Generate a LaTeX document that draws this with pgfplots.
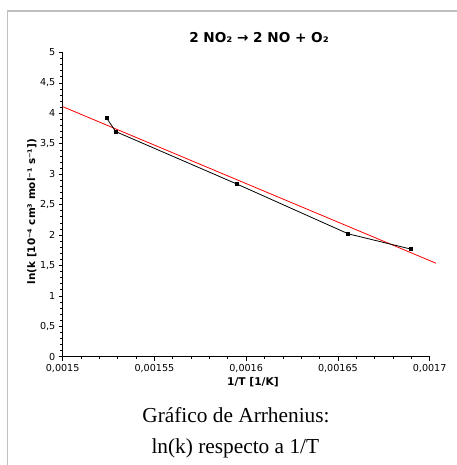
\documentclass[border=0pt]{standalone}
\usepackage{pgfplots}
\pgfplotsset{compat=1.18}
\usepackage{fontspec}
\setmainfont{DejaVu Sans}
\newfontfamily\capfont{Liberation Serif}
\definecolor{framegray}{RGB}{192,192,192}
\begin{document}
\begin{tikzpicture}
\useasboundingbox (0,0) rectangle (342.75pt,348.75pt);
\draw[color=framegray, line width=1.2pt] (5.6pt,0) -- (5.6pt,340.5pt) -- (342.75pt,340.5pt);
\begin{axis}[
  at={(47pt,81.2pt)}, anchor=south west,
  scale only axis, width=275.25pt, height=228.2pt,
  xmin=0.0015, xmax=0.0017, ymin=0, ymax=5,
  axis lines*=left,
  axis line style={black, line width=0.6pt},
  clip=false,
  tick align=outside,
  major tick length=3pt, minor tick length=1.8pt,
  every tick/.style={black, line width=0.5pt},
  xtick={0.0015,0.00155,0.0016,0.00165,0.0017},
  xticklabels={{0,0015},{0,00155},{0,0016},{0,00165},{0,0017}},
  ytick={0,0.5,1,1.5,2,2.5,3,3.5,4,4.5,5},
  yticklabels={0,{0,5},1,{1,5},2,{2,5},3,{3,5},4,{4,5},5},
  minor x tick num=4, minor y tick num=4,
  scaled x ticks=false,
  tick label style={font=\fontsize{7.2}{8}\selectfont},
  xticklabel style={yshift=1pt},
  yticklabel style={xshift=1pt},
  title={2 NO₂ → 2 NO + O₂},
  title style={at={(axis description cs:0.535,1.022)}, anchor=center, font=\bfseries\fontsize{10.2}{11}\selectfont},
  xlabel={1/T [1/K]},
  ylabel={ln(k [10⁻⁴ cm³ mol⁻¹ s⁻¹])},
  xlabel style={at={(axis description cs:0.5185,-0.083)}, anchor=center, font=\bfseries\fontsize{8}{9}\selectfont},
  ylabel style={at={(axis description cs:-0.0837,0.477)}, anchor=center, rotate=0, font=\bfseries\fontsize{7.8}{9}\selectfont},
]
\addplot[red, line width=0.6pt] coordinates {(0.0015,4.11) (0.0017035,1.536)};
\addplot[black, line width=0.6pt, mark=square*, mark size=1.1pt] coordinates {
  (0.001524,3.92) (0.0015289,3.70) (0.0015948,2.84) (0.0016556,2.02) (0.0016896,1.77)};
\end{axis}
\node[font=\capfont\fontsize{16}{18}\selectfont] at (177pt,37.5pt) {Gráfico de Arrhenius:};
\node[font=\capfont\fontsize{16}{18}\selectfont] at (176.5pt,12.3pt) {ln(k) respecto a 1/T};
\end{tikzpicture}
\end{document}
